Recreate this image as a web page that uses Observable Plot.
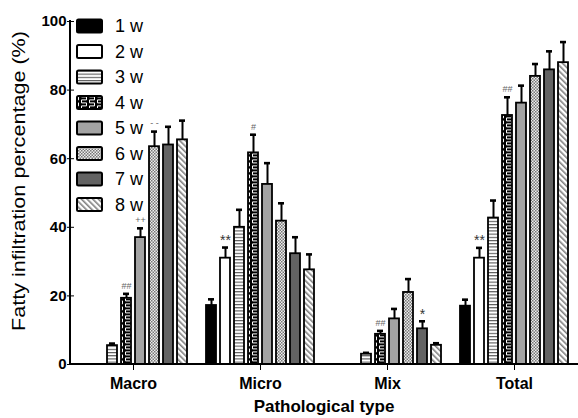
<!DOCTYPE html>
<html>
<head>
<meta charset="utf-8">
<script src="https://cdn.jsdelivr.net/npm/d3@7"></script>
<script src="https://cdn.jsdelivr.net/npm/@observablehq/plot@0.6"></script>
<style>
  body { margin: 0; background: #fff; }
  #chart svg { display: block; }
</style>
</head>
<body>
<div id="chart"></div>
<script>
// ---- Data ----
const categories = ["Macro", "Micro", "Mix", "Total"];
const weeks = ["1 w", "2 w", "3 w", "4 w", "5 w", "6 w", "7 w", "8 w"];

const macroValues = [0, 0, 5.5, 19.3, 37, 63.5, 64, 65.5];
const macroErrors = [0, 0, 0.6, 1.3, 2.7, 4.4, 5.3, 5.6];
const macroMarks  = ["", "", "", "##", "++", "- -", "", ""];

const microValues = [17.2, 31, 40, 61.7, 52.5, 41.8, 32.3, 27.6];
const microErrors = [1.8, 3.1, 5.1, 5.3, 6.2, 5.2, 4.8, 4.5];
const microMarks  = ["", "**", "", "#", "", "", "", ""];

const mixValues = [0, 0, 3, 8.8, 13.3, 21, 10.4, 5.6];
const mixErrors = [0, 0, 0.4, 1.0, 2.9, 3.9, 2.2, 0.6];
const mixMarks  = ["", "", "", "##", "", "", "*", ""];

const totalValues = [17, 31, 42.7, 72.6, 76.2, 84, 85.9, 88];
const totalErrors = [1.9, 3, 5.1, 5.3, 5.1, 3.6, 5.4, 6];
const totalMarks  = ["", "**", "", "##", "", "", "", ""];

const yTicks = [0, 20, 40, 60, 80, 100];
const weekFills = ["#000000", "#ffffff", "url(#p3)", "url(#p4)", "#a3a3a3", "url(#p6)", "#636363", "url(#p8)"];

const seriesByCategory = {
  Macro: [macroValues, macroErrors, macroMarks],
  Micro: [microValues, microErrors, microMarks],
  Mix: [mixValues, mixErrors, mixMarks],
  Total: [totalValues, totalErrors, totalMarks]
};

const rows = [];
for (const cat of categories) {
  const [vals, errs, marks] = seriesByCategory[cat];
  weeks.forEach((w, i) => rows.push({cat, week: w, value: vals[i], err: errs[i], sig: marks[i]}));
}
const barRows = rows.filter(d => d.value > 0);
const errRows = rows.filter(d => d.err > 0);
const sigRows = rows.filter(d => d.sig);

const FONT = "'Liberation Sans', Arial, Helvetica, sans-serif";

const plot = Plot.plot({
  width: 578,
  height: 418,
  marginLeft: 70,
  marginRight: 0,
  marginTop: 21,
  marginBottom: 54,
  style: {fontFamily: FONT, fontSize: "15px", fontWeight: "bold", color: "black", background: "white", overflow: "visible"},
  fx: {domain: categories, paddingInner: 0.07, paddingOuter: 0.035, label: null, axis: "bottom", tickSize: 6, tickPadding: 7},
  x: {domain: weeks, paddingInner: 0.28, paddingOuter: 0.14, axis: null},
  y: {domain: [0, 100], ticks: yTicks, tickSize: 7, tickPadding: 1, label: null},
  color: {type: "ordinal", domain: weeks, range: weekFills},
  marks: [
    Plot.ruleX(errRows, {fx: "cat", x: "week", y1: "value", y2: d => d.value + d.err, stroke: "black", strokeWidth: 2}),
    Plot.tickY(errRows, {fx: "cat", x: "week", y: d => d.value + d.err, stroke: "black", strokeWidth: 2.6, insetLeft: 2, insetRight: 2}),
    Plot.barY(barRows, {fx: "cat", x: "week", y: "value", fill: "week", stroke: "black", strokeWidth: 1.8}),
    Plot.text(sigRows.filter(d => d.sig.includes("*")), {fx: "cat", x: "week", y: d => d.value + d.err, text: "sig", dy: -7, fontSize: 14, fontWeight: "normal", fill: "#333"}),
    Plot.text(sigRows.filter(d => !d.sig.includes("*")), {fx: "cat", x: "week", y: d => d.value + d.err, text: "sig", dy: -8, fontSize: 9, fontWeight: "normal", fill: "#666"})
  ]
});

const svg = d3.select(plot);

// Pattern definitions for the hatched fills
svg.insert("defs", ":first-child").html(`
  <pattern id="p3" patternUnits="userSpaceOnUse" width="6" height="3.2">
    <rect width="6" height="3.2" fill="#fff"/>
    <rect y="0" width="6" height="1.1" fill="#555"/>
  </pattern>
  <pattern id="p4" patternUnits="userSpaceOnUse" width="8" height="6">
    <rect width="8" height="6" fill="#000"/>
    <path d="M1.5,-0.5 V0.9 H6.5 V3.9 H1.5 V6.5" fill="none" stroke="#fff" stroke-width="1"/>
  </pattern>
  <pattern id="p6" patternUnits="userSpaceOnUse" width="3" height="3">
    <rect width="3" height="3" fill="#eee"/>
    <rect width="1.5" height="1.5" fill="#777"/>
    <rect x="1.5" y="1.5" width="1.5" height="1.5" fill="#777"/>
  </pattern>
  <pattern id="p8" patternUnits="userSpaceOnUse" width="4" height="4" patternTransform="rotate(-45)">
    <rect width="4" height="4" fill="#fff"/>
    <rect width="1.6" height="4" fill="#808080"/>
  </pattern>
`);

// Font sizes for axis labels
svg.selectAll('g[aria-label^="fx-axis"] text').attr("font-size", 16);

// Axis lines via the plot's y scale
const yS = plot.scale("y");
const y0 = yS.apply(0), y100 = yS.apply(100);
svg.append("line").attr("x1", 70).attr("x2", 578).attr("y1", y0).attr("y2", y0).attr("stroke", "black").attr("stroke-width", 2);
svg.append("line").attr("x1", 70).attr("x2", 70).attr("y1", y100 - 1).attr("y2", y0).attr("stroke", "black").attr("stroke-width", 2);

// Axis titles
svg.append("text").attr("x", 324).attr("y", 412).attr("text-anchor", "middle")
  .attr("font-size", 17).attr("font-weight", "bold").text("Pathological type");
svg.append("text").attr("transform", "translate(25,181) rotate(-90)").attr("text-anchor", "middle")
  .attr("font-size", 18).attr("font-weight", "normal")
  .attr("textLength", 300).attr("lengthAdjust", "spacingAndGlyphs")
  .text("Fatty infiltration percentage (%)");

// Legend
const legend = svg.append("g").attr("font-weight", "normal").attr("font-size", 18).attr("text-anchor", "start");
weeks.forEach((w, i) => {
  const cy = 26 + i * 25.5;
  legend.append("rect").attr("x", 77).attr("y", cy - 6.5).attr("width", 25).attr("height", 13).attr("rx", 1.5)
    .attr("fill", weekFills[i]).attr("stroke", "black").attr("stroke-width", 2);
  legend.append("text").attr("x", 115).attr("y", cy).attr("dy", "0.36em").text(w);
});

document.getElementById("chart").appendChild(plot);
</script>
</body>
</html>
